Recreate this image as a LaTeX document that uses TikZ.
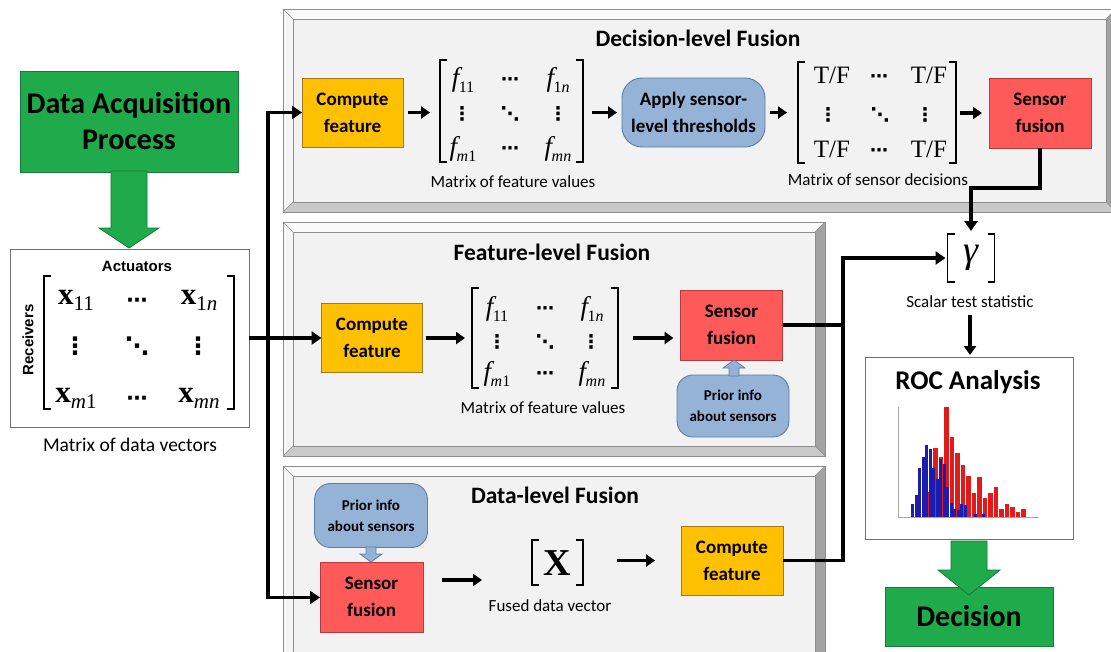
\documentclass[tikz,border=0pt]{standalone}
\usepackage{fontspec}
\setmainfont{Carlito}
\newfontfamily\serifface{Liberation Serif}
\newfontfamily\arialface{Liberation Sans}
\newfontfamily\symface{DejaVu Sans}
\usetikzlibrary{arrows.meta,calc}

\definecolor{accgreen}{HTML}{1FAA4B}
\definecolor{accgreenline}{HTML}{17793A}
\definecolor{compfill}{HTML}{FFC000}
\definecolor{compline}{HTML}{9D7B22}
\definecolor{fusefill}{HTML}{FF5A5A}
\definecolor{fuseline}{HTML}{B23B3B}
\definecolor{infofill}{HTML}{95B3D7}
\definecolor{infoline}{HTML}{5D7DA6}
\definecolor{face}{HTML}{F2F2F2}
\definecolor{bvtopc}{HTML}{FAFAFA}
\definecolor{bvleftc}{HTML}{F5F5F5}
\definecolor{bvrightc}{HTML}{A3A3A3}
\definecolor{bvbotc}{HTML}{C9C9C9}
\definecolor{bvlinec}{HTML}{8E8E8E}
\definecolor{histred}{HTML}{E31A1A}
\definecolor{histblue}{HTML}{1C1CB0}
\definecolor{frame}{HTML}{707070}

\newcommand\fsz[2]{\fontsize{#1}{#2}\selectfont}
% matrix entries
\newcommand\xent[1]{{\serifface\bfseries\fsz{31}{31}x}\raisebox{-6pt}{\serifface\fsz{21}{21}#1}}
\newcommand\fent[1]{{\serifface\itshape\fsz{27}{27}f}\kern-0.5pt\raisebox{-6pt}{\serifface\fsz{16}{16}#1}}
\newcommand\tfent{{\serifface\fsz{25}{25}T/F}}
\newcommand\hdt[1]{{\symface\bfseries\fsz{#1}{#1}⋯}}
\newcommand\vdt[1]{{\symface\bfseries\fsz{#1}{#1}⋮}}
\newcommand\ddt[1]{{\symface\bfseries\fsz{#1}{#1}⋱}}

% raised panel: x1 y1 x2 y2 bevel
\newcommand\bevelpanel[5]{%
  \fill[bvtopc] (#1,#2) -- (#3,#2) -- ({#3-#5},{#2+#5}) -- ({#1+#5},{#2+#5}) -- cycle;
  \fill[bvleftc] (#1,#2) -- ({#1+#5},{#2+#5}) -- ({#1+#5},{#4-#5}) -- (#1,#4) -- cycle;
  \fill[bvrightc] (#3,#2) -- (#3,#4) -- ({#3-#5},{#4-#5}) -- ({#3-#5},{#2+#5}) -- cycle;
  \fill[bvbotc] (#1,#4) -- (#3,#4) -- ({#3-#5},{#4-#5}) -- ({#1+#5},{#4-#5}) -- cycle;
  \fill[face] ({#1+#5},{#2+#5}) rectangle ({#3-#5},{#4-#5});
  \draw[bvline] (#1,#2) rectangle (#3,#4);
  \draw[bvline] ({#1+#5},{#2+#5}) rectangle ({#3-#5},{#4-#5});
  \draw[bvline] (#1,#2) -- ({#1+#5},{#2+#5}) (#3,#2) -- ({#3-#5},{#2+#5})
                (#1,#4) -- ({#1+#5},{#4-#5}) (#3,#4) -- ({#3-#5},{#4-#5});
}
% square brackets on the corners of a node
\newcommand\brackets[1]{%
  \draw[brk] ([xshift=7pt]#1.north west) -- (#1.north west) -- (#1.south west) -- ([xshift=7pt]#1.south west);
  \draw[brk] ([xshift=-7pt]#1.north east) -- (#1.north east) -- (#1.south east) -- ([xshift=-7pt]#1.south east);
}

\tikzset{
  every node/.style={inner sep=0pt, outer sep=0pt},
  bvline/.style={draw=bvlinec, line width=0.6pt},
  boxlabel/.style={font=\fsz{19}{27}\bfseries, align=center},
  compbox/.style={boxlabel, draw=compline, fill=compfill, line width=0.9pt, minimum width=101pt, minimum height=69pt},
  fusebox/.style={boxlabel, draw=fuseline, fill=fusefill, line width=0.9pt, minimum width=102pt, minimum height=70pt},
  infobox/.style={draw=infoline, fill=infofill, line width=0.9pt, rounded corners=16pt, align=center,
                  font=\fsz{15}{21}\bfseries, minimum width=112pt, minimum height=62pt},
  applybox/.style={boxlabel, draw=infoline, fill=infofill, line width=0.9pt, rounded corners=20pt,
                  minimum width=143pt, minimum height=69pt},
  greenbox/.style={draw=accgreenline, fill=accgreen, line width=0.9pt, align=center, font=\fsz{30}{36}\bfseries},
  whitebox/.style={draw=frame, fill=white, line width=0.8pt},
  caption/.style={font=\fsz{17}{19}},
  paneltitle/.style={font=\fsz{23.5}{26}\bfseries},
  flow/.style={line width=3.2pt, -{Triangle[length=9pt,width=12pt]}},
  conn/.style={line width=3.6pt, -{Triangle[length=10pt,width=13pt]}},
  connline/.style={line width=3.6pt},
  brk/.style={line width=1.3pt},
  greenarrow/.style={fill=accgreen, draw=accgreenline, line width=0.8pt},
  infoarrow/.style={fill=infofill, draw=infoline, line width=0.8pt},
  axisline/.style={draw=gray!70, line width=0.7pt},
}

\begin{document}
\begin{tikzpicture}[x=1pt,y=-1pt]
\useasboundingbox (0,0) rectangle (1111,651);
\fill[white] (0,0) rectangle (1111,651);

% ---------- the three fusion panels ----------
\bevelpanel{283}{9}{1116}{212}{10}
\bevelpanel{283}{222}{825}{456}{10}
\bevelpanel{283}{466}{825}{662}{10}

% ---------- data acquisition ----------
\node[greenbox, minimum width=218pt, minimum height=101pt] (acq) at (129,121.5) {Data Acquisition\\Process};
\draw[greenarrow] (111,171) -- (147,171) -- (147,228) -- (159,228) -- (129,248) -- (99,228) -- (111,228) -- cycle;

\node[whitebox, minimum width=239pt, minimum height=178pt] (dmat) at (129.5,338) {};
\node[font=\arialface\bfseries\fsz{15}{15}] (act) at (137,266) {Actuators};
\node[font=\arialface\bfseries\fsz{15}{15}, rotate=90] (rcv) at (28,340) {Receivers};
\node[minimum width=190pt, minimum height=133pt] (xmat) at (139,342.5) {};
\brackets{xmat}
\node (x11) at (76,300) {\xent{11}};
\node (x12) at (137,303) {\hdt{21}};
\node (x13) at (199,300) {\xent{1\textit{n}}};
\node (x21) at (75,346) {\vdt{24}};
\node (x22) at (137,346) {\ddt{24}};
\node (x23) at (198,346) {\vdt{24}};
\node (x31) at (76,398) {\xent{\textit{m}1}};
\node (x32) at (137,401) {\hdt{21}};
\node (x33) at (199,398) {\xent{\textit{mn}}};
\node[font=\fsz{19.5}{22}] (dcap) at (130,445) {Matrix of data vectors};

% ---------- decision-level fusion ----------
\node[paneltitle] (t1) at (698,38) {Decision-level Fusion};
\node[compbox] (cf1) at (352.5,112.5) {Compute\\feature};
\node[minimum width=143pt, minimum height=102pt] (fm1) at (511.5,111) {};
\brackets{fm1}
\node (f111) at (463,80) {\fent{11}};
\node (f112) at (510,82) {\hdt{18}};
\node (f113) at (558,80) {\fent{1\textit{n}}};
\node (f121) at (462,114) {\vdt{19}};
\node (f122) at (510,114) {\ddt{19}};
\node (f123) at (558,114) {\vdt{19}};
\node (f131) at (463,149) {\fent{\textit{m}1}};
\node (f132) at (510,151) {\hdt{18}};
\node (f133) at (558,149) {\fent{\textit{mn}}};
\node[caption] (fcap1) at (513,182) {Matrix of feature values};
\node[applybox] (apply) at (693.5,112.5) {Apply sensor-\\level thresholds};
\node[minimum width=158pt, minimum height=101pt] (tfm) at (877,112.5) {};
\brackets{tfm}
\node (tf11) at (832,75) {\tfent};
\node (tf12) at (879,79) {\hdt{18}};
\node (tf13) at (929,75) {\tfent};
\node (tf21) at (828,115) {\vdt{19}};
\node (tf22) at (880,115) {\ddt{19}};
\node (tf23) at (925,115) {\vdt{19}};
\node (tf31) at (832,149) {\tfent};
\node (tf32) at (879,153) {\hdt{18}};
\node (tf33) at (929,149) {\tfent};
\node[caption] (tfcap) at (878,180) {Matrix of sensor decisions};
\node[fusebox] (sf1) at (1040,113) {Sensor\\fusion};

\draw[flow, shorten <=5pt, shorten >=10pt] (cf1.east) -- (cf1.east -| fm1.west);
\draw[flow, shorten <=9pt, shorten >=5pt] (fm1.east |- apply.west) -- (apply.west);
\draw[flow, shorten <=5pt, shorten >=11pt] (apply.east) -- (apply.east -| tfm.west);
\draw[flow, shorten <=4pt, shorten >=7pt] (tfm.east |- sf1.west) -- (sf1.west);

% ---------- feature-level fusion ----------
\node[paneltitle] (t2) at (552,252) {Feature-level Fusion};
\node[compbox] (cf2) at (372,338) {Compute\\feature};
\node[minimum width=146pt, minimum height=100pt] (fm2) at (545,338) {};
\brackets{fm2}
\node (f211) at (497,309) {\fent{11}};
\node (f212) at (545,311) {\hdt{18}};
\node (f213) at (592,309) {\fent{1\textit{n}}};
\node (f221) at (497,342) {\vdt{19}};
\node (f222) at (545,342) {\ddt{19}};
\node (f223) at (591,342) {\vdt{19}};
\node (f231) at (497,374) {\fent{\textit{m}1}};
\node (f232) at (545,376) {\hdt{18}};
\node (f233) at (592,374) {\fent{\textit{mn}}};
\node[caption] (fcap2) at (543,408) {Matrix of feature values};
\node[fusebox] (sf2) at (731.5,325) {Sensor\\fusion};
\node[infobox] (info2) at (733,406) {Prior info\\about sensors};
\draw[infoarrow] (729,376) -- (729,368) -- (723,368) -- (734,360) -- (745,368) -- (739,368) -- (739,376) -- cycle;

\draw[flow, shorten <=3pt, shorten >=7pt] (cf2.east) -- (cf2.east -| fm2.west);
\draw[flow, shorten <=15pt, shorten >=7pt] (fm2.east) -- (fm2.east -| sf2.west);

% ---------- data-level fusion ----------
\node[paneltitle] (t3) at (555,495) {Data-level Fusion};
\node[infobox, minimum width=113pt, minimum height=64pt] (info3) at (371,515.5) {Prior info\\about sensors};
\node[fusebox, minimum width=103pt] (sf3) at (371.5,597) {Sensor\\fusion};
\draw[infoarrow] (366,547) -- (376,547) -- (376,554) -- (382,554) -- (371,562) -- (360,554) -- (366,554) -- cycle;
\node[minimum width=51pt, minimum height=45pt] (xv) at (557.5,562.5) {};
\brackets{xv}
\node[font=\serifface\bfseries\fsz{38}{38}] (xx) at (557.5,563) {X};
\node[caption] (xcap) at (550,606) {Fused data vector};
\node[compbox, minimum width=102pt] (cf3) at (732,560.5) {Compute\\feature};

\draw[flow, shorten <=19pt, shorten >=50pt] ([yshift=17pt]sf3.east) -- ([yshift=17pt]sf3.east -| xv.west);
\draw[flow, shorten <=34pt, shorten >=26pt] (xv.east |- cf3.west) -- (cf3.west);

% ---------- test statistic, ROC, decision ----------
\node[minimum width=47pt, minimum height=48pt, font=\serifface\itshape\fsz{38}{38}] (gam) at (971,258) {γ};
\brackets{gam}
\node[font=\fsz{17}{19}] (gcap) at (970,302) {Scalar test statistic};

\node[whitebox, minimum width=208pt, minimum height=182pt] (roc) at (969,448) {};
\node[font=\fsz{27}{30}\bfseries] (roct) at (968,382) {ROC Analysis};
% histogram of the two classes
\draw[axisline] (898,407) -- (898,517) -- (1039,517);
\foreach \l/\t in {922/505, 927.5/492, 933/448, 938.5/457, 944/407, 949.5/437, 955/453, 960.5/465,
                   966/476, 971.5/493, 977/477, 982.5/498, 988/493, 993.5/487, 999/509, 1004.5/504,
                   1010/507, 1015.5/512, 1021/509}
  \fill[histred] (\l,516.5) rectangle ({\l+4.8},\t);
\foreach \l/\t in {911/504, 914.5/495, 918/468, 921.5/457, 925/445, 928.5/449, 932/468, 935.5/479,
                   939/459, 942.5/464, 946/487, 949.5/503, 953/509, 956.5/510, 960/504, 963.5/505,
                   974/514, 982/514}
  \fill[histblue] (\l,516.5) rectangle ({\l+3.4},\t);

\node[greenbox, minimum width=168pt, minimum height=59pt] (dec) at (969,616.5) {Decision};
\draw[greenarrow] (951,541) -- (987,541) -- (987,570) -- (1000,570) -- (969,595) -- (938,570) -- (951,570) -- cycle;

% ---------- connectors ----------
\coordinate (jn) at (268,338);
\draw[conn] (dmat.east) -- (cf2.west);
\draw[conn] (jn) |- (cf1.west);
\draw[conn] (jn) |- ([yshift=-0.5pt]sf3.west);

\coordinate (dturn) at ($(sf1.south)+(0,40)$);
\draw[conn, shorten >=3pt] (sf1.south) -- (dturn) -| (gam.north);

\coordinate (bus) at (843,258);
\draw[connline] (cf3.east) -| (bus);
\draw[conn, shorten >=2pt] (sf2.east) -| (bus) -- (gam.west);

\draw[flow, shorten <=7pt, shorten >=2pt] (gcap.south) -- (gcap.south |- roc.north);
\end{tikzpicture}
\end{document}
